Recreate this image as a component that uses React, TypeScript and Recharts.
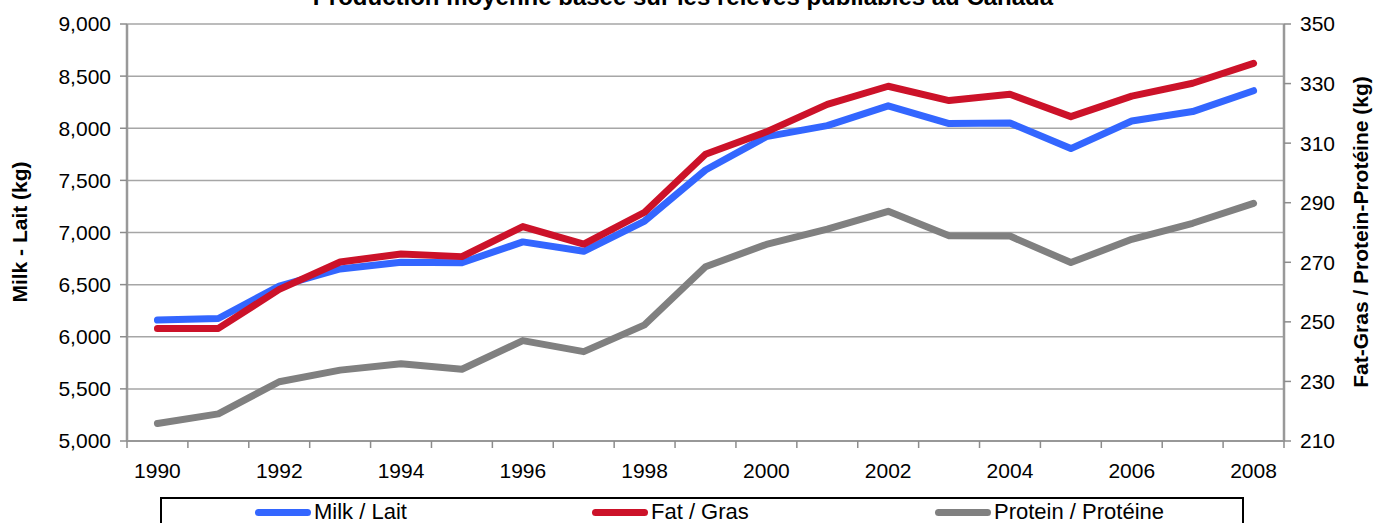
import { LineChart, Line, XAxis, YAxis, CartesianGrid } from 'recharts';

const FONT = '"Liberation Sans", Arial, sans-serif';

const title = 'Production moyenne basée sur les relevés publiables au Canada';
const leftTitle = 'Milk - Lait (kg)';
const rightTitle = 'Fat-Gras / Protein-Protéine (kg)';

const years = [1990, 1991, 1992, 1993, 1994, 1995, 1996, 1997, 1998, 1999, 2000, 2001, 2002, 2003, 2004, 2005, 2006, 2007, 2008];
const milk = [6160, 6175, 6485, 6650, 6715, 6710, 6910, 6820, 7110, 7600, 7920, 8025, 8215, 8045, 8050, 7805, 8070, 8160, 8360];
const fat = [247.8, 247.8, 260.9, 270.1, 272.8, 271.9, 282.0, 276.1, 286.8, 306.3, 313.8, 323.0, 329.1, 324.3, 326.4, 318.9, 325.8, 330.1, 336.8];
const protein = [215.9, 219.1, 229.9, 233.8, 235.9, 234.1, 243.7, 240.0, 249.0, 268.5, 276.0, 281.1, 287.1, 278.9, 278.8, 269.9, 277.7, 283.1, 289.8];

const yearLabels = [1990, 1992, 1994, 1996, 1998, 2000, 2002, 2004, 2006, 2008];
const leftTicks = [5000, 5500, 6000, 6500, 7000, 7500, 8000, 8500, 9000];
const rightTicks = [210, 230, 250, 270, 290, 310, 330, 350];

const series = [
  { key: 'milk', name: 'Milk / Lait', color: '#3366FF', axis: 'left' },
  { key: 'fat', name: 'Fat / Gras', color: '#CC1229', axis: 'right' },
  { key: 'protein', name: 'Protein / Protéine', color: '#808080', axis: 'right' },
];

const data = years.map((year, i) => ({ year, milk: milk[i], fat: fat[i], protein: protein[i] }));

// tick marks sit between the years (Excel category axis), labels on every other year
const boundaries = [...years.map((y) => y - 0.5), years[years.length - 1] + 0.5];
const xTicks = [...boundaries, ...yearLabels].sort((a, b) => a - b);

const YearTick = ({ x, y, payload }: any) => {
  const v = payload.value;
  if (v % 1 !== 0) {
    return <line x1={x} x2={x} y1={y} y2={y + 7} stroke="#8c8c8c" strokeWidth={1.5} />;
  }
  return (
    <text x={x} y={y + 37} textAnchor="middle" fontSize={21} fill="#000" fontFamily={FONT}>
      {v}
    </text>
  );
};

const W = 1375;
const H = 523;
const legendWidths = [337, 343, 240];

export default function App() {
  return (
    <div style={{ position: 'absolute', left: 0, top: 0, width: W, height: H, background: '#fff', overflow: 'hidden' }}>
      <LineChart width={W} height={H} data={data} margin={{ top: 24, right: 0, bottom: 0, left: 0 }}>
        <CartesianGrid yAxisId="left" vertical={false} stroke="#a6a6a6" strokeWidth={1.5} />
        <XAxis
          dataKey="year"
          type="number"
          domain={[1989.5, 2008.5]}
          ticks={xTicks}
          interval={0}
          height={82}
          tickSize={0}
          tickMargin={0}
          tickLine={false}
          tick={<YearTick />}
          axisLine={{ stroke: '#8c8c8c', strokeWidth: 1.5 }}
        />
        <YAxis
          yAxisId="left"
          width={127}
          domain={[5000, 9000]}
          ticks={leftTicks}
          interval={0}
          tickFormatter={(v: number) => v.toLocaleString('en-US')}
          tick={{ fontSize: 21, fill: '#000', fontFamily: FONT }}
          tickSize={7}
          tickMargin={9}
          tickLine={{ stroke: '#8c8c8c', strokeWidth: 1.5 }}
          axisLine={{ stroke: '#999', strokeWidth: 2.5 }}
        />
        <YAxis
          yAxisId="right"
          orientation="right"
          width={91}
          domain={[210, 350]}
          ticks={rightTicks}
          interval={0}
          tick={{ fontSize: 21, fill: '#000', fontFamily: FONT }}
          tickSize={7}
          tickMargin={9}
          tickLine={{ stroke: '#8c8c8c', strokeWidth: 1.5 }}
          axisLine={{ stroke: '#999', strokeWidth: 2.5 }}
        />
        {series.map((s) => (
          <Line
            key={s.key}
            yAxisId={s.axis}
            dataKey={s.key}
            name={s.name}
            stroke={s.color}
            strokeWidth={7}
            strokeLinecap="round"
            strokeLinejoin="round"
            dot={false}
            activeDot={false}
            isAnimationActive={false}
          />
        ))}
      </LineChart>

      <svg width={W} height={H} style={{ position: 'absolute', left: 0, top: 0, pointerEvents: 'none' }}>
        <text x={683} y={5} textAnchor="middle" fontSize={24} fontWeight="bold" fontFamily={FONT} fill="#000">
          {title}
        </text>
        <text
          transform="translate(27,232) rotate(-90)"
          textAnchor="middle"
          fontSize={21}
          fontWeight="bold"
          fontFamily={FONT}
          fill="#000"
        >
          {leftTitle}
        </text>
        <text
          transform="translate(1368,232) rotate(-90)"
          textAnchor="middle"
          fontSize={21}
          fontWeight="bold"
          fontFamily={FONT}
          fill="#000"
        >
          {rightTitle}
        </text>
      </svg>

      <div
        style={{
          position: 'absolute',
          left: 160,
          top: 497,
          width: 1084,
          height: 44,
          border: '2px solid #000',
          boxSizing: 'border-box',
          display: 'flex',
          paddingLeft: 93,
          fontFamily: FONT,
          fontSize: 22,
        }}
      >
        {series.map((s, i) => (
          <div
            key={s.key}
            style={{ width: legendWidths[i], flexShrink: 0, display: 'flex', alignItems: 'center', height: 26 }}
          >
            <span style={{ display: 'inline-block', width: 56, height: 7, borderRadius: 4, background: s.color, marginRight: 3 }} />
            <span>{s.name}</span>
          </div>
        ))}
      </div>
    </div>
  );
}
